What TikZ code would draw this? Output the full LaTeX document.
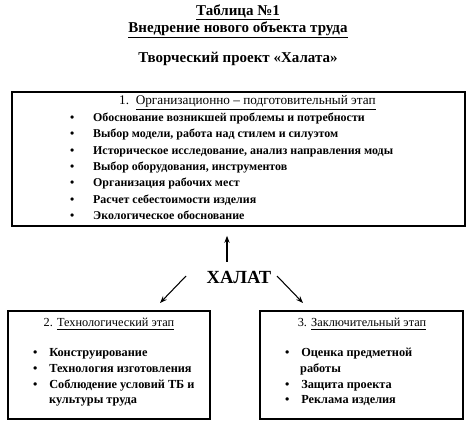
\documentclass[tikz,border=0pt]{standalone}
\usepackage{fontspec}
\setmainfont{Liberation Serif}
\usetikzlibrary{arrows.meta}
\tikzset{
  stagebox/.style={draw, rectangle, line width=1.1pt, inner sep=0pt},
  title/.style={inner sep=0pt, font=\fontsize{12.8}{15}\bfseries\selectfont},
  head/.style={inner sep=0pt, font=\fontsize{10.5}{13}\selectfont},
  item/.style={anchor=west, inner sep=0pt, text height=8pt, text depth=2.5pt, font=\fontsize{10.5}{13}\bfseries\selectfont},
  arr/.style={-{Stealth[length=6pt,width=4.5pt]}, line width=0.9pt},
}
\newcommand{\bul}[1]{\makebox[#1][l]{\textbullet}}
\begin{document}
\begin{tikzpicture}[x=0.03cm, y=-0.03cm]
  \useasboundingbox (0,0) rectangle (476,433);
  % titles
  \node[title] (tab) at (238,12.5) {\underline{Таблица №1}};
  \node[title] (intro) at (238,29.5) {\underline{Внедрение нового объекта труда}};
  \node[title] (proj) at (238,59) {Творческий проект «Халата»};
  % stage 1
  \node[stagebox, line width=1.4pt, minimum width=13.59cm, minimum height=4.02cm] (stage1) at (238.5,159) {};
  \node[head, anchor=west, font=\fontsize{11.3}{13}\selectfont] (head1) at (119,103) {1.\enspace\underline{Организационно – подготовительный этап}};
  \foreach \t [count=\i] in {Обоснование возникшей проблемы и потребности,
      {Выбор модели, работа над стилем и силуэтом},
      {Историческое исследование, анализ направления моды},
      {Выбор оборудования, инструментов},
      Организация рабочих мест,
      Расчет себестоимости изделия,
      Экологическое обоснование}
    \node[item, font=\fontsize{10.2}{13}\bfseries\selectfont] (a\i) at (70,102+16.3*\i) {\bul{19.6pt}\t};
  % center
  \node[inner sep=1pt, font=\fontsize{15.8}{18}\bfseries\selectfont] (halat) at (239,277) {ХАЛАТ};
  % stage 2
  \node[stagebox, minimum width=6.06cm, minimum height=3.24cm] (stage2) at (109,365) {};
  \node[head] (head2) at (109,324) {2. \underline{Технологический этап}};
  \node[item] (b1) at (33,353) {\bul{13.7pt}Конструирование};
  \node[item] (b2) at (33,369) {\bul{13.7pt}Технология изготовления};
  \node[item] (b3) at (33,385) {\bul{13.7pt}Соблюдение условий ТБ и};
  \node[item] (b4) at (49,400) {культуры труда};
  % stage 3
  \node[stagebox, minimum width=6.09cm, minimum height=3.24cm] (stage3) at (361.5,365) {};
  \node[head] (head3) at (362,324) {3. \underline{Заключительный этап}};
  \node[item] (c1) at (285,353) {\bul{13.7pt}Оценка предметной};
  \node[item] (c2) at (300,369) {работы};
  \node[item] (c3) at (285,385) {\bul{13.7pt}Защита проекта};
  \node[item] (c4) at (285,400) {\bul{13.7pt}Реклама изделия};
  % arrows
  \coordinate (upTail) at (227,262);
  \coordinate (leftTail) at (186,276);
  \coordinate (rightTail) at (277,276);
  \coordinate (leftHead) at (160,303);
  \coordinate (rightHead) at (303,303);
  \draw[arr, shorten >=0.27cm] (upTail) -- (upTail |- stage1.south);
  \draw[arr] (leftTail) -- (leftHead);
  \draw[arr] (rightTail) -- (rightHead);
\end{tikzpicture}
\end{document}
